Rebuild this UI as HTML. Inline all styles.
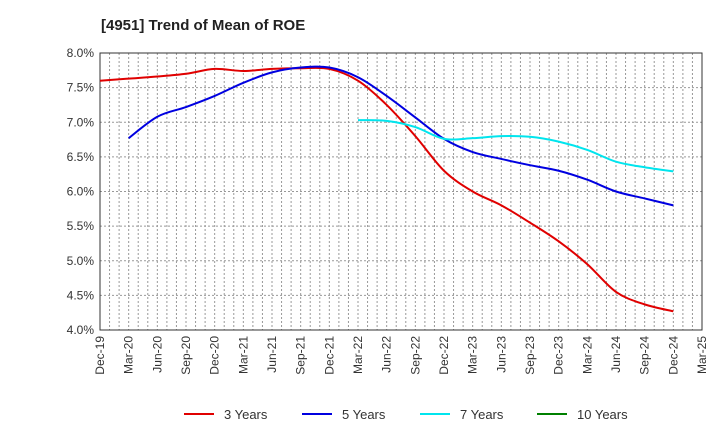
<!DOCTYPE html>
<html><head><meta charset="utf-8"><style>
body{margin:0;background:#fff;font-family:"Liberation Sans",sans-serif}
svg text{font-family:"Liberation Sans",sans-serif}
</style></head><body>
<svg id="c" width="720" height="440" xmlns="http://www.w3.org/2000/svg">
<text x="101" y="30" font-size="15" font-weight="bold" fill="#222">[4951]  Trend of Mean of ROE</text>
<g id="grid"></g><g id="axes"></g><g id="series"></g><g id="legend"></g>
</svg>
<script>
const xLabels=["Dec-19","Mar-20","Jun-20","Sep-20","Dec-20","Mar-21","Jun-21","Sep-21","Dec-21","Mar-22","Jun-22","Sep-22","Dec-22","Mar-23","Jun-23","Sep-23","Dec-23","Mar-24","Jun-24","Sep-24","Dec-24","Mar-25"];
const yTicks=[4.0,4.5,5.0,5.5,6.0,6.5,7.0,7.5,8.0];
const s3=[7.60,7.63,7.66,7.70,7.77,7.74,7.77,7.78,7.77,7.60,7.25,6.80,6.30,6.00,5.80,5.55,5.28,4.95,4.55,4.37,4.27];
const s5=[null,6.77,7.08,7.22,7.38,7.57,7.72,7.79,7.79,7.65,7.38,7.07,6.76,6.57,6.47,6.38,6.30,6.17,6.00,5.90,5.80];
const s7=[null,null,null,null,null,null,null,null,null,7.03,7.02,6.93,6.76,6.77,6.80,6.79,6.72,6.60,6.43,6.35,6.29];
const s10=[];
const L=100,R=702,T=53,B=330;
const X=i=>L+(R-L)*i/(xLabels.length-1);
const Y=v=>B-(v-4)/(8-4)*(B-T);
const NS="http://www.w3.org/2000/svg";
function mk(tag,attrs,parent){const e=document.createElementNS(NS,tag);for(const k in attrs)e.setAttribute(k,attrs[k]);parent.appendChild(e);return e;}
const grid=document.getElementById('grid'),axes=document.getElementById('axes'),ser=document.getElementById('series'),leg=document.getElementById('legend');
for(let m=1;m<(xLabels.length-1)*3;m++){const x=L+(R-L)*m/((xLabels.length-1)*3);
const g=mk('line',{x1:x,x2:x,y1:T,y2:B,stroke:'#999','stroke-dasharray':'2,2','stroke-width':1},grid);

}
yTicks.forEach(v=>{const y=Y(v);
const g=mk('line',{x1:L,x2:R,y1:y,y2:y,stroke:'#999','stroke-dasharray':'2,2','stroke-width':1},grid);


const t=mk('text',{x:L-6,y:y+4,'text-anchor':'end','font-size':12,fill:'#333'},axes);t.textContent=v.toFixed(1)+'%';

});
const fr=mk('rect',{x:L,y:T,width:R-L,height:B-T,fill:'none',stroke:'#333','stroke-width':1},axes);


xLabels.forEach((lb,i)=>{const x=X(i);
const t=mk('text',{x:0,y:0,'text-anchor':'end','font-size':12,fill:'#333',transform:`translate(${x+4},${B+6}) rotate(-90)`},axes);t.textContent=lb;

});
function path(arr){const p=[];arr.forEach((v,i)=>{if(v!=null)p.push([X(i),Y(v)]);});if(p.length<2)return '';
let d=`M${p[0][0]},${p[0][1]}`;for(let i=0;i<p.length-1;i++){const p0=p[i-1]||p[i],p1=p[i],p2=p[i+1],p3=p[i+2]||p2;
d+=` C${p1[0]+(p2[0]-p0[0])/6},${p1[1]+(p2[1]-p0[1])/6} ${p2[0]-(p3[0]-p1[0])/6},${p2[1]-(p3[1]-p1[1])/6} ${p2[0]},${p2[1]}`;}return d;}
const series=[[s3,'#e00000','3 Years','line-3-years'],[s5,'#0000e0','5 Years','line-5-years'],[s7,'#00e5ee','7 Years','line-7-years'],[s10,'#008000','10 Years','line-10-years']];
series.forEach(([a,c,n,id])=>{const d=path(a);if(d){const e=mk('path',{d:d,fill:'none',stroke:c,'stroke-width':2},ser);

}});
const lx=[184,302,420,537];
series.forEach(([a,c,n,id],i)=>{const g=mk('g',{},leg);


mk('line',{x1:lx[i],x2:lx[i]+30,y1:414,y2:414,stroke:c,'stroke-width':2},g);
const t=mk('text',{x:lx[i]+40,y:419,'font-size':13,fill:'#333'},g);t.textContent=n;});
</script>
</body></html>
